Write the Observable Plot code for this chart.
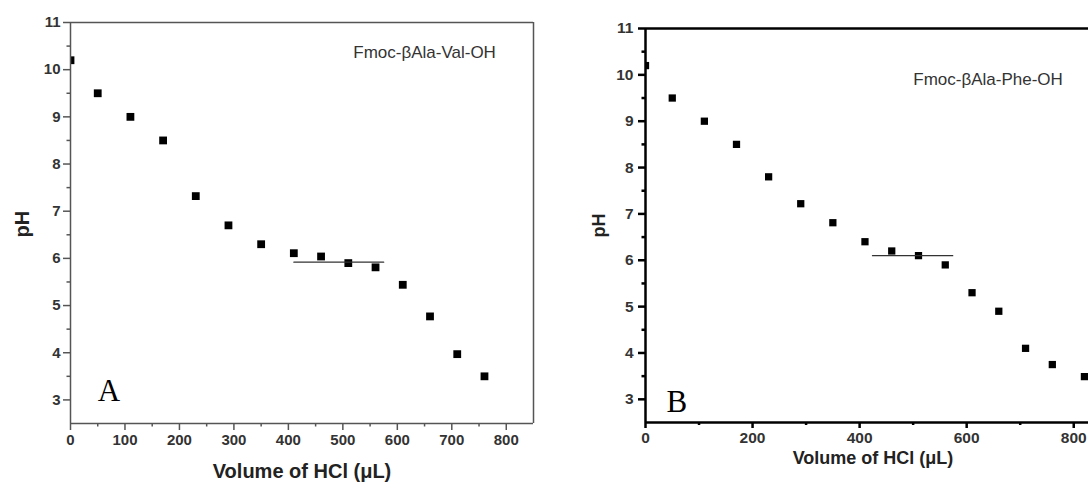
<!DOCTYPE html>
<html>
<head>
<meta charset="utf-8">
<script src="https://cdn.jsdelivr.net/npm/d3@7"></script>
<script src="https://cdn.jsdelivr.net/npm/@observablehq/plot@0.6"></script>
<style>
  html, body { margin: 0; padding: 0; background: #fff; width: 1088px; height: 489px; overflow: hidden; }
  #a { position: absolute; left: 0; top: 0; width: 560px; }
  #b { position: absolute; left: 560px; top: 0; width: 560px; }
  svg { overflow: visible; max-width: none !important; }
</style>
</head>
<body>
<div id="a"></div>
<div id="b"></div>
<script>
// Panel A: Fmoc-βAla-Val-OH
const volumeA = [0, 50, 110, 170, 230, 290, 350, 410, 460, 510, 560, 610, 660, 710, 760];
const pHA     = [10.2, 9.5, 9.0, 8.5, 7.32, 6.7, 6.3, 6.11, 6.04, 5.9, 5.81, 5.44, 4.77, 3.97, 3.5];
const fitXA = [410, 575];
const fitYA = [5.92, 5.92];
const xTicksA = [0, 100, 200, 300, 400, 500, 600, 700, 800];
const xMinorA = [50, 150, 250, 350, 450, 550, 650, 750];

// Panel B: Fmoc-βAla-Phe-OH
const volumeB = [0, 50, 110, 170, 230, 290, 350, 410, 460, 510, 560, 610, 660, 710, 760, 820];
const pHB     = [10.2, 9.5, 9.0, 8.5, 7.8, 7.22, 6.81, 6.4, 6.2, 6.1, 5.9, 5.3, 4.9, 4.1, 3.75, 3.49];
const fitXB = [424, 574];
const fitYB = [6.1, 6.1];
const xTicksB = [0, 200, 400, 600, 800];
const xMinorB = [100, 300, 500, 700];

const yTicks = [3, 4, 5, 6, 7, 8, 9, 10, 11];
const yMinor = [3.5, 4.5, 5.5, 6.5, 7.5, 8.5, 9.5, 10.5];
const xTitle = "Volume of HCl (μL)";
const yTitle = "pH";

const FONT = "'Liberation Sans', Arial, sans-serif";

function panel(o) {
  const pts = o.vol.map((v, i) => ({v, p: o.ph[i]}));
  const fit = o.fitX.map((v, i) => ({v, p: o.fitY[i]}));
  const blank = () => "";
  return Plot.plot({
    width: o.width, height: 489,
    marginLeft: o.ml, marginRight: o.mr, marginTop: o.mt, marginBottom: o.mb,
    x: {domain: [0, 850]},
    y: {domain: [2.5, 11]},
    style: {fontFamily: FONT, color: "#333", maxWidth: "none", overflow: "visible"},
    marks: [
      Plot.dot(pts, {x: "v", y: "p", symbol: "square", r: o.r, fill: "#000", stroke: "none", clip: true}),
      Plot.line(fit, {x: "v", y: "p", stroke: o.fitColor, strokeWidth: 1.2}),
      Plot.axisX(o.xTicks, {tickSize: o.tsx, tickFormat: blank, stroke: o.axisColor, strokeWidth: o.sw, label: null}),
      Plot.axisX(o.xMinor, {tickSize: o.tsx / 2, tickFormat: blank, stroke: o.axisColor, strokeWidth: o.sw, label: null}),
      Plot.axisY(yTicks, {tickSize: 7, tickFormat: blank, stroke: o.axisColor, strokeWidth: o.sw, label: null}),
      Plot.axisY(yMinor, {tickSize: 3.5, tickFormat: blank, stroke: o.axisColor, strokeWidth: o.sw, label: null}),
      Plot.ruleY([2.5], {stroke: o.axisColor, strokeWidth: o.sw}),
      Plot.ruleY([11], {stroke: o.axisColor, strokeWidth: o.sw}),
      Plot.ruleX([0], {stroke: o.axisColor, strokeWidth: o.sw}),
      Plot.ruleX([850], {stroke: o.axisColor, strokeWidth: o.sw}),
      // tick labels
      Plot.text(o.xTicks, {x: d => d, frameAnchor: "bottom", dy: o.xlDy, text: d => String(d), fontSize: o.tkfs, fontWeight: "bold", fill: "#333"}),
      Plot.text(yTicks, {y: d => d, frameAnchor: "left", dx: o.ylDx, textAnchor: "end", text: d => String(d), fontSize: o.tkfs, fontWeight: "bold", fill: "#333"}),
      Plot.text([o.name], {x: o.nameX, y: o.nameY, fontSize: o.nfs, fill: "#333", textAnchor: "middle"}),
      Plot.text([o.letter], {x: o.letX, y: o.letY, fontSize: 31, fontFamily: "'Liberation Serif', 'Times New Roman', serif", fill: "#000", textAnchor: "start"}),
      Plot.text([xTitle], {frameAnchor: "bottom", dy: o.xtDy, fontSize: o.tfs, fontWeight: "bold", fill: "#222"}),
      Plot.text([yTitle], {frameAnchor: "left", dx: o.ytDx, dy: o.ytDy, rotate: -90, fontSize: o.tfs, fontWeight: "bold", fill: "#222"})
    ]
  });
}

document.getElementById("a").append(panel({
  vol: volumeA, ph: pHA, fitX: fitXA, fitY: fitYA, xTicks: xTicksA, xMinor: xMinorA,
  width: 560, ml: 70, mr: 27, mt: 22, mb: 66, r: 4.4,
  axisColor: "#555", sw: 1.5, fitColor: "#333", tkfs: 15, tsx: 7, xlDy: 21, ylDx: -10,
  name: "Fmoc-βAla-Val-OH", nameX: 650, nameY: 10.37, nfs: 17,
  letter: "A", letX: 50, letY: 3.18,
  xtDy: 54, ytDx: -48, ytDy: 14.5, tfs: 20
}));

document.getElementById("b").append(panel({
  vol: volumeB, ph: pHB, fitX: fitXB, fitY: fitYB, xTicks: xTicksB, xMinor: xMinorB,
  width: 560, ml: 85, mr: 20, mt: 28, mb: 67, r: 4.1,
  axisColor: "#000", sw: 2.5, fitColor: "#333", tkfs: 15.5, tsx: 6, xlDy: 20, ylDx: -12,
  name: "Fmoc-βAla-Phe-OH", nameX: 640, nameY: 9.89, nfs: 17,
  letter: "B", letX: 39, letY: 2.93,
  xtDy: 41, ytDx: -46, ytDy: 12, tfs: 18
}));
</script>
</body>
</html>
